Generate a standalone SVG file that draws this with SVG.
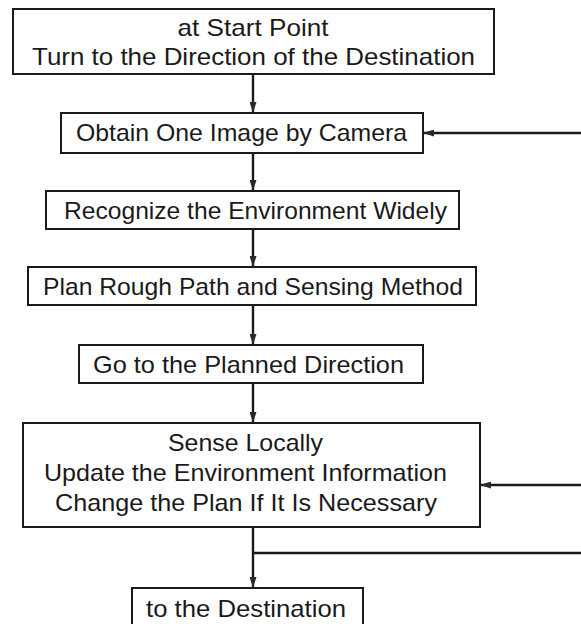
<svg xmlns="http://www.w3.org/2000/svg" width="581" height="624" viewBox="0 0 581 624">
<style>
.box{fill:#fff;stroke:#1a1a1a;stroke-width:2}
.t{font-family:"Liberation Sans",Arial,sans-serif;font-size:24px;fill:#1a1a1a;text-anchor:middle}
.ln{stroke:#1a1a1a;stroke-width:2.4;fill:none}
</style>
<defs>
<marker id="ah" viewBox="0 0 11 7" refX="11" refY="3.5" markerWidth="11" markerHeight="7" markerUnits="userSpaceOnUse" orient="auto">
<path d="M0,0 L11,3.5 L0,7 Z" fill="#2a2a2a"/>
</marker>
</defs>
<rect width="581" height="624" fill="#fff"/>
<g id="connectors">
<line class="ln" x1="253" y1="74" x2="253" y2="113" marker-end="url(#ah)"/>
<line class="ln" x1="253" y1="153" x2="253" y2="191" marker-end="url(#ah)"/>
<line class="ln" x1="253" y1="229" x2="253" y2="267" marker-end="url(#ah)"/>
<line class="ln" x1="253" y1="305" x2="253" y2="345" marker-end="url(#ah)"/>
<line class="ln" x1="253" y1="383" x2="253" y2="423" marker-end="url(#ah)"/>
<line class="ln" x1="253" y1="527" x2="253" y2="588" marker-end="url(#ah)"/>
<line class="ln" x1="253" y1="553" x2="581" y2="553"/>
<line class="ln" x1="581" y1="133" x2="423" y2="133" marker-end="url(#ah)"/>
<line class="ln" x1="581" y1="485" x2="480" y2="485" marker-end="url(#ah)"/>
</g>
<g id="n1">
<rect class="box" x="13" y="9" width="481" height="65"/>
<text class="t" x="253" y="36" textLength="151" lengthAdjust="spacingAndGlyphs">at Start Point</text>
<text class="t" x="253.5" y="65" textLength="443" lengthAdjust="spacingAndGlyphs">Turn to the Direction of the Destination</text>
</g>
<g id="n2">
<rect class="box" x="61" y="113" width="362" height="40"/>
<text class="t" x="241.5" y="141" textLength="331" lengthAdjust="spacingAndGlyphs">Obtain One Image by Camera</text>
</g>
<g id="n3">
<rect class="box" x="46" y="191" width="413" height="38"/>
<text class="t" x="255.5" y="219" textLength="383" lengthAdjust="spacingAndGlyphs">Recognize the Environment Widely</text>
</g>
<g id="n4">
<rect class="box" x="28" y="267" width="448" height="38"/>
<text class="t" x="253" y="295" textLength="420" lengthAdjust="spacingAndGlyphs">Plan Rough Path and Sensing Method</text>
</g>
<g id="n5">
<rect class="box" x="79" y="345" width="344" height="38"/>
<text class="t" x="248.5" y="373" textLength="311" lengthAdjust="spacingAndGlyphs">Go to the Planned Direction</text>
</g>
<g id="n6">
<rect class="box" x="23" y="423" width="457" height="104"/>
<text class="t" x="245.5" y="451" textLength="155" lengthAdjust="spacingAndGlyphs">Sense Locally</text>
<text class="t" x="245.5" y="481" textLength="403" lengthAdjust="spacingAndGlyphs">Update the Environment Information</text>
<text class="t" x="246" y="511" textLength="382" lengthAdjust="spacingAndGlyphs">Change the Plan If It Is Necessary</text>
</g>
<g id="n7">
<rect class="box" x="132" y="588" width="231" height="40"/>
<text class="t" x="246" y="617" textLength="200" lengthAdjust="spacingAndGlyphs">to the Destination</text>
</g>
</svg>
